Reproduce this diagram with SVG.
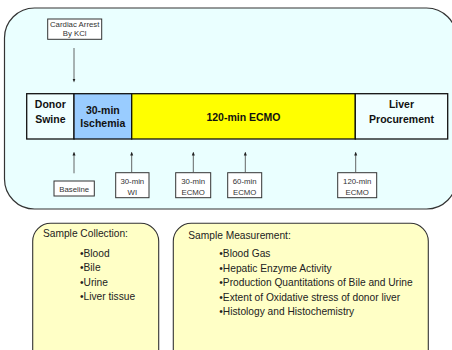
<svg xmlns="http://www.w3.org/2000/svg" width="452" height="350" viewBox="0 0 452 350">
<defs>
<style>
.bg{fill:#eaffff;stroke:#333;stroke-width:1.2}
.bar{stroke:#111;stroke-width:1.3}
.lbl{font-family:"Liberation Sans",Arial,sans-serif;font-weight:bold;font-size:10.5px;fill:#111;text-anchor:middle}
.sm{fill:#fff;stroke:#333;stroke-width:1}
.smt{font-family:"Liberation Sans",Arial,sans-serif;font-size:7.8px;fill:#333;text-anchor:middle}
.note{fill:#ffffc6;stroke:#333;stroke-width:1.1}
.nt{font-family:"Liberation Sans",Arial,sans-serif;font-size:10.2px;fill:#222}
.con{stroke:#555;stroke-width:0.9;fill:none;marker-end:url(#ah)}
</style>
<marker id="ah" markerUnits="userSpaceOnUse" markerWidth="4" markerHeight="4" refX="2" refY="2" orient="auto">
<path d="M0,0.5 L4,2 L0,3.5 Z" fill="#222"/>
</marker>
</defs>
<rect class="bg" x="4.5" y="8" width="452" height="201" rx="30" ry="30"/>
<g id="donor">
<rect class="bar" x="26.7" y="93.7" width="47.3" height="45.3" fill="#f0ffff"/>
<text class="lbl" x="50.3" y="107.8">Donor</text>
<text class="lbl" x="50.3" y="122.6">Swine</text>
</g>
<g id="ischemia">
<rect class="bar" x="74" y="93.7" width="57.7" height="45.3" fill="#99ccff"/>
<text class="lbl" x="102.8" y="113.8">30-min</text>
<text class="lbl" x="102.8" y="127">Ischemia</text>
</g>
<g id="ecmo">
<rect class="bar" x="131.7" y="93.7" width="223.6" height="45.3" fill="#ffff00"/>
<text class="lbl" x="243.5" y="121.4">120-min ECMO</text>
</g>
<g id="liver">
<rect class="bar" x="355.3" y="93.7" width="92.4" height="45.3" fill="#f0ffff"/>
<text class="lbl" x="401.5" y="108">Liver</text>
<text class="lbl" x="401.5" y="122.7">Procurement</text>
</g>
<g id="cardiac">
<rect class="sm" x="47.7" y="19" width="54" height="20.3"/>
<text class="smt" x="74.7" y="27" font-size="7.4px">Cardiac Arrest</text>
<text class="smt" x="74.7" y="36" font-size="7.4px">By KCl</text>
</g>
<g id="baseline">
<rect class="sm" x="54" y="181" width="40.3" height="15"/>
<text class="smt" x="74.2" y="191.8">Baseline</text>
</g>
<g id="wi">
<rect class="sm" x="115.7" y="172.7" width="33.3" height="25"/>
<text class="smt" x="132.3" y="184.3">30-min</text>
<text class="smt" x="132.3" y="194.5">WI</text>
</g>
<g id="ecmo30">
<rect class="sm" x="175.7" y="172.7" width="35" height="25"/>
<text class="smt" x="193.2" y="184.3">30-min</text>
<text class="smt" x="193.2" y="194.5">ECMO</text>
</g>
<g id="ecmo60">
<rect class="sm" x="227.7" y="172.7" width="34" height="25"/>
<text class="smt" x="244.7" y="184.3">60-min</text>
<text class="smt" x="244.7" y="194.5">ECMO</text>
</g>
<g id="ecmo120">
<rect class="sm" x="337.7" y="172.7" width="39" height="25"/>
<text class="smt" x="357.2" y="184.3">120-min</text>
<text class="smt" x="357.2" y="194.5">ECMO</text>
</g>
<g id="connectors">
<line class="con" x1="74" y1="48" x2="74" y2="80.5"/>
<line class="con" x1="74" y1="173.3" x2="74" y2="153.5"/>
<line class="con" x1="131.7" y1="172.7" x2="131.7" y2="153.5"/>
<line class="con" x1="193.3" y1="172.7" x2="193.3" y2="153.5"/>
<line class="con" x1="245.3" y1="172.7" x2="245.3" y2="153.5"/>
<line class="con" x1="355.7" y1="172.7" x2="355.7" y2="153.5"/>
</g>
<g id="collection">
<rect class="note" x="32.7" y="223.3" width="126" height="150" rx="18" ry="18"/>
<text class="nt" x="43" y="237">Sample Collection:</text>
<text class="nt" x="80" y="256.8">•Blood</text>
<text class="nt" x="80" y="271.3">•Bile</text>
<text class="nt" x="80" y="285.8">•Urine</text>
<text class="nt" x="80" y="300.2">•Liver tissue</text>
</g>
<g id="measurement">
<rect class="note" x="173.3" y="223.3" width="255" height="150" rx="18" ry="18"/>
<text class="nt" x="188.3" y="238.6">Sample Measurement:</text>
<text class="nt" x="219.3" y="257">•Blood Gas</text>
<text class="nt" x="219.3" y="271.6">•Hepatic Enzyme Activity</text>
<text class="nt" x="219.3" y="286.2">•Production Quantitations of Bile and Urine</text>
<text class="nt" x="219.3" y="300.7">•Extent of Oxidative stress of donor liver</text>
<text class="nt" x="219.3" y="315.2">•Histology and Histochemistry</text>
</g>
</svg>
